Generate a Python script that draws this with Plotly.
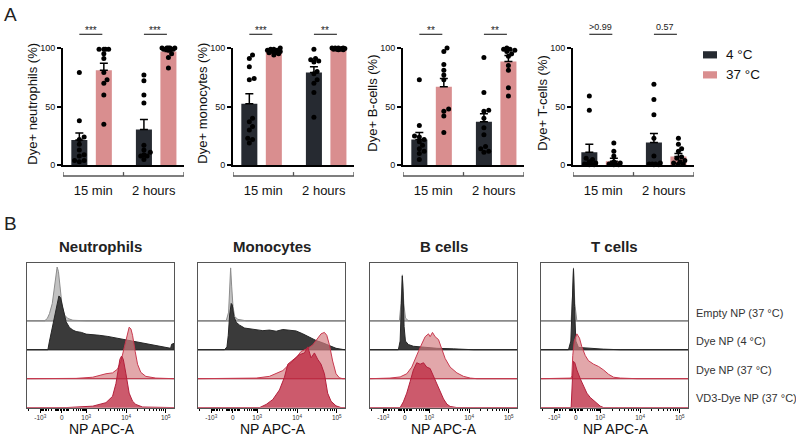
import numpy as np
import plotly.graph_objects as go

W, H = 796, 438
FONT = "Liberation Sans, Arial, sans-serif"


def fx(p):
    return p / W


def fy(p):
    return 1 - p / H


# ---------------- Panel A data ----------------
categories = ["15 min", "2 hours"]
temps = ["4 °C", "37 °C"]
ylabels = ["Dye+ neutrophils (%)", "Dye+ monocytes (%)", "Dye+ B-cells (%)", "Dye+ T-cells (%)"]

neut_4C_mean = [21.5, 30.5]
neut_4C_sem = [6.0, 8.5]
neut_37C_mean = [81.0, 97.0]
neut_37C_sem = [6.0, 1.2]
neut_4C_15 = [79, 38, 24, 22, 18, 13, 9, 8, 4, 4, 3]
neut_4C_2h = [77, 72, 60, 53, 17, 13, 11, 9, 8, 8, 5]
neut_37C_15 = [99, 99, 99, 99, 95, 91, 79, 73, 70, 60, 35]
neut_37C_2h = [100, 100, 100, 100, 100, 99, 99, 98, 95, 92, 83]

mono_4C_mean = [52.5, 79.0]
mono_4C_sem = [8.5, 5.0]
mono_37C_mean = [98.0, 99.5]
mono_37C_sem = [0.8, 0.3]
mono_4C_15 = [94, 91, 84, 74, 73, 40, 37, 33, 30, 23, 22, 19]
mono_4C_2h = [99, 91, 90, 89, 88, 80, 78, 73, 70, 62, 41]
mono_37C_15 = [100, 99, 99, 98, 98, 97, 97, 96, 96, 95, 94]
mono_37C_2h = [100, 100, 100, 100, 99.5, 99.5, 99, 99, 99, 98.5, 98.5]

bcell_4C_mean = [22.0, 37.0]
bcell_4C_sem = [6.0, 7.0]
bcell_37C_mean = [67.0, 88.5]
bcell_37C_sem = [7.0, 5.0]
bcell_4C_15 = [73, 34, 25, 24, 22, 20, 17, 14, 12, 10, 5]
bcell_4C_2h = [92, 62, 47, 46, 40, 32, 26, 16, 14, 12, 11]
bcell_37C_15 = [100, 97, 86, 81, 77, 73, 48, 46, 42, 28]
bcell_37C_2h = [100, 99, 99, 98, 97, 95, 93, 85, 81, 66, 59]

tcell_4C_mean = [11.0, 19.5]
tcell_4C_sem = [7.0, 7.5]
tcell_37C_mean = [3.5, 7.5]
tcell_37C_sem = [2.5, 2.5]
tcell_4C_15 = [59, 47, 6, 5, 3, 2, 1, 1, 1, 0.5, 0.5]
tcell_4C_2h = [69, 56, 43, 23, 8, 2, 1, 1, 1, 0.5, 0.5]
tcell_37C_15 = [19, 12, 8, 3, 2, 1, 1, 1, 0.5, 0.5]
tcell_37C_2h = [23, 18, 14, 12, 7, 6, 4, 3, 2, 1, 1]

significance = [["***", "***"], ["***", "**"], ["**", "**"], [">0.99", "0.57"]]

# ---------------- Panel B data (x in display fraction of NP APC-A axis, h in row units) ----------------
cell_titles = ["Neutrophils", "Monocytes", "B cells", "T cells"]
row_labels = ["Empty NP (37 °C)", "Dye NP (4 °C)", "Dye NP (37 °C)", "VD3-Dye NP (37 °C)"]
apc_tick_text = ["-10<sup>3</sup>", "0", "10<sup>3</sup>", "10<sup>4</sup>", "10<sup>5</sup>"]

neut_empty = [(.120, 0), (.138, .08), (.153, .25), (.172, .6), (.187, 1.2), (.199, 1.7), (.205, 1.86),
              (.214, 1.7), (.226, 1.1), (.239, .5), (.255, .2), (.278, .08), (.312, .02), (.402, 0)]
neut_dye4 = [(.142, 0), (.153, .3), (.176, .85), (.199, 1.5), (.217, 1.86), (.228, 1.8), (.244, 1.4),
             (.266, .97), (.289, .77), (.312, .68), (.334, .63), (.37, .6), (.402, .54), (.45, .53),
             (.492, .5), (.55, .46), (.605, .41), (.66, .36), (.718, .3), (.78, .25), (.831, .19),
             (.89, .13), (.944, .08), (.977, .05), (.984, .19), (.993, .22), (1.0, .22)]
neut_dye37 = [(.334, .01), (.447, .05), (.537, .17), (.582, .2), (.616, .33), (.639, .6), (.661, 1.05),
              (.679, 1.5), (.695, 1.78), (.707, 1.72), (.718, 1.5), (.736, .94), (.752, .5), (.774, .22),
              (.808, .08), (.876, .02)]
neut_vd3 = [(.266, 0), (.447, .05), (.537, .17), (.582, .39), (.605, .83), (.623, 1.39), (.632, 1.67),
            (.643, 1.78), (.655, 1.67), (.673, 1.17), (.695, .5), (.718, .22), (.740, .11), (.786, .02)]

mono_empty = [(.192, 0), (.208, .3), (.215, 1.0), (.222, 1.83), (.229, 1.2), (.238, .5), (.249, .15),
              (.271, .05), (.328, 0)]
mono_dye4 = [(.181, 0), (.197, .1), (.206, .5), (.215, 1.2), (.226, 1.6), (.233, 1.55), (.244, 1.15),
             (.260, .95), (.283, .85), (.317, .75), (.351, .72), (.396, .68), (.441, .66), (.486, .68),
             (.532, .64), (.577, .7), (.622, .68), (.667, .65), (.713, .55), (.758, .42), (.803, .32),
             (.848, .24), (.894, .14), (.939, .05), (.984, .01)]
mono_dye37 = [(.396, .02), (.486, .08), (.532, .17), (.577, .28), (.622, .5), (.667, .72), (.701, .94),
              (.724, 1.0), (.747, 1.05), (.781, 1.17), (.803, 1.33), (.837, 1.55), (.860, 1.6), (.876, 1.5),
              (.894, 1.17), (.916, .61), (.939, .17), (.962, .03), (.984, 0)]
mono_vd3 = [(.419, 0), (.464, .11), (.509, .28), (.554, .61), (.588, 1.05), (.611, 1.5), (.633, 1.6),
            (.656, 1.67), (.690, 1.83), (.724, 1.89), (.747, 2.1), (.769, 1.72), (.792, 1.89), (.814, 1.67),
            (.837, 1.5), (.860, 1.17), (.882, .5), (.905, .22), (.939, .06), (.973, 0)]

bcell_empty = [(.200, 0), (.211, .6), (.220, 1.59), (.230, .6), (.241, .1), (.261, 0)]
bcell_dye4 = [(.193, 0), (.205, .3), (.211, 1.0), (.218, 2.0), (.220, 2.55), (.225, 2.0), (.232, .8),
              (.241, .3), (.261, .18), (.295, .12), (.364, .08), (.455, .05), (.568, .03), (.659, .01),
              (.705, 0)]
bcell_dye37 = [(.136, .02), (.205, .06), (.25, .17), (.284, .4), (.307, .7), (.33, .95), (.352, 1.2),
               (.375, 1.45), (.398, 1.55), (.409, 1.45), (.425, 1.6), (.443, 1.45), (.466, 1.35),
               (.489, 1.0), (.511, .7), (.545, .4), (.591, .2), (.636, .08), (.682, .02), (.727, 0)]
bcell_vd3 = [(.205, 0), (.227, .2), (.25, .5), (.273, .9), (.295, 1.3), (.318, 1.55), (.341, 1.5),
             (.364, 1.55), (.386, 1.4), (.409, 1.35), (.432, 1.1), (.455, .8), (.477, .55), (.5, .3),
             (.523, .12), (.545, .04), (.591, 0)]

tcell_empty = [(.205, 0), (.214, .8), (.221, 1.83), (.23, .6), (.244, 0)]
tcell_dye4 = [(.187, 0), (.203, .3), (.212, 1.5), (.221, 2.8), (.228, 1.5), (.237, .3), (.255, .08),
              (.335, .05), (.426, .02), (.54, 0)]
tcell_dye37 = [(.205, 0.02), (.21, .1), (.216, .8), (.226, 1.3), (.244, 1.55), (.262, 1.4), (.278, 1.1),
               (.301, .8), (.323, .62), (.358, .5), (.392, .42), (.426, .3), (.46, .15), (.494, .05),
               (.54, .02), (.652, 0)]
tcell_vd3 = [(.205, 0), (.214, 1.0), (.221, 1.6), (.23, 1.55), (.244, 1.3), (.267, 1.0), (.289, .75),
             (.312, .5), (.335, .35), (.358, .25), (.381, .15), (.403, .05), (.426, 0)]

# ---------------- styling / layout constants ----------------
DARK = "#262a31"
PINK = "#d98e8f"
A_left = [63, 233, 403, 573]
A_width = 121
A_top, A_bot = 44, 164
cat_center = [0.945, 3.08]
bar_off = 0.405
bar_w = 0.53
X_PX = A_width / 4.0
Y_PX = (A_bot - A_top) / 100.0

B_left = [27, 198, 370, 541]
B_width = 147
B_top, B_bot = 264, 412
apc_major = [0.09, 0.236, 0.403, 0.674, 0.944]


def apc_pos(v):
    if v >= 1000:
        return 0.403 + np.log10(v / 1000.0) * 0.2705
    if v <= -1000:
        return 0.09 - np.log10(-v / 1000.0) * 0.2705
    w = 100.0
    if v >= 0:
        return 0.236 + 0.167 * np.arcsinh(v / w) / np.arcsinh(1000 / w)
    return 0.236 - 0.146 * np.arcsinh(-v / w) / np.arcsinh(1000 / w)


minor_vals = []
for s in (1, -1):
    for v in [20, 40, 60, 80, 100, 200, 300, 400, 500, 600, 700, 800, 900]:
        minor_vals.append(s * v)
minor_vals += [-2000] + [k * 10 ** d for d in (3, 4) for k in range(2, 10)]
apc_minor = [float(apc_pos(v)) for v in minor_vals]


def swarm(vals, center, d=4.0, step=1.6, max_off=7.0):
    placed = []
    xs = [0.0] * len(vals)
    order = sorted(range(len(vals)), key=lambda i: vals[i])
    cands = [0.0]
    j = 1
    while j * step <= max_off:
        cands += [j * step, -j * step]
        j += 1
    for i in order:
        ypx = vals[i] * Y_PX
        best, best_d = 0.0, -1.0
        for off in cands:
            md = min([np.hypot(off - p, ypx - q) for p, q in placed] or [99.0])
            if md >= d:
                best = off
                break
            if md > best_d + 1e-9:
                best, best_d = off, md
        placed.append((best, ypx))
        xs[i] = center + best / X_PX
    return xs


fig = go.Figure()
shapes = []
annotations = []

panelA = [
    (neut_4C_mean, neut_4C_sem, neut_37C_mean, neut_37C_sem, [neut_4C_15, neut_4C_2h], [neut_37C_15, neut_37C_2h]),
    (mono_4C_mean, mono_4C_sem, mono_37C_mean, mono_37C_sem, [mono_4C_15, mono_4C_2h], [mono_37C_15, mono_37C_2h]),
    (bcell_4C_mean, bcell_4C_sem, bcell_37C_mean, bcell_37C_sem, [bcell_4C_15, bcell_4C_2h], [bcell_37C_15, bcell_37C_2h]),
    (tcell_4C_mean, tcell_4C_sem, tcell_37C_mean, tcell_37C_sem, [tcell_4C_15, tcell_4C_2h], [tcell_37C_15, tcell_37C_2h]),
]

layout_axes = {}
for i, (m4, s4, m37, s37, p4, p37) in enumerate(panelA):
    n = i + 1
    xa = "x" if n == 1 else f"x{n}"
    ya = "y" if n == 1 else f"y{n}"
    xdark = [c - bar_off for c in cat_center]
    xpink = [c + bar_off for c in cat_center]
    for xs, means, sems, col, name in [(xdark, m4, s4, DARK, temps[0]), (xpink, m37, s37, PINK, temps[1])]:
        fig.add_trace(go.Bar(
            x=xs, y=means, width=bar_w, marker=dict(color=col, line=dict(width=0)), name=name,
            error_y=dict(type="data", array=sems, arrayminus=[0] * len(sems), symmetric=False,
                         color="black", thickness=1.5, width=4),
            xaxis=xa, yaxis=ya, showlegend=False, hoverinfo="skip"))
    for xs_c, pts in [(xdark, p4), (xpink, p37)]:
        for k in range(2):
            fig.add_trace(go.Scatter(
                x=swarm(pts[k], xs_c[k]), y=pts[k], mode="markers",
                marker=dict(color="black", size=5), cliponaxis=False,
                xaxis=xa, yaxis=ya, showlegend=False, hoverinfo="skip"))
    x0 = A_left[i]
    layout_axes["xaxis" if n == 1 else f"xaxis{n}"] = dict(
        domain=[fx(x0), fx(x0 + A_width)], range=[0, 4], anchor=ya,
        showline=True, linecolor="black", linewidth=2, showgrid=False, zeroline=False,
        tickmode="array", tickvals=[1, 3], ticktext=categories, ticks="",
        ticklabelstandoff=12, tickfont=dict(size=13, color="#111", family=FONT))
    layout_axes["yaxis" if n == 1 else f"yaxis{n}"] = dict(
        domain=[fy(A_bot), fy(A_top)], range=[0, 100], anchor=xa,
        showline=True, linecolor="black", linewidth=2, showgrid=False, zeroline=False,
        tickmode="array", tickvals=[0, 50, 100], ticks="outside", ticklen=4, tickwidth=2,
        tickcolor="black", tickfont=dict(size=9, color="#111", family=FONT))
    annotations.append(dict(xref="paper", yref="paper", x=fx(x0 - 30), y=fy(101), text=ylabels[i],
                            textangle=-90, showarrow=False, xanchor="center", yanchor="middle",
                            font=dict(size=13, color="#111", family=FONT)))
    # category bracket
    shapes.append(dict(type="line", xref=xa, yref="paper", x0=0, x1=4, y0=fy(175), y1=fy(175),
                       line=dict(color="#555", width=1.3)))
    for tx in [0, 2, 4]:
        shapes.append(dict(type="line", xref=xa, yref="paper", x0=tx, x1=tx, y0=fy(175), y1=fy(171),
                           line=dict(color="#555", width=1.3)))
    # significance
    for k in range(2):
        shapes.append(dict(type="line", xref=xa, yref="paper", x0=xdark[k], x1=xpink[k] - 0.05,
                           y0=fy(30), y1=fy(30), line=dict(color="#333", width=1.2)))
        txt = significance[i][k]
        star = txt.startswith("*")
        annotations.append(dict(xref=xa, yref="paper", x=(xdark[k] + xpink[k] - 0.05) / 2,
                                y=fy(26 if star else 23), text=txt, showarrow=False,
                                yanchor="middle", xanchor="center",
                                font=dict(size=10 if star else 9, color="#222", family=FONT)))

# Legend for panel A (manual)
for j, (col, lab) in enumerate([(DARK, temps[0]), (PINK, temps[1])]):
    yc = 51 + j * 20.5
    shapes.append(dict(type="rect", xref="paper", yref="paper", x0=fx(703), x1=fx(717),
                       y0=fy(yc + 3.7), y1=fy(yc - 3.7), fillcolor=col, line=dict(width=0)))
    annotations.append(dict(xref="paper", yref="paper", x=fx(724), y=fy(yc), text=lab, showarrow=False,
                            xanchor="left", yanchor="middle", font=dict(size=13.5, color="#111", family=FONT)))

# ---------------- Panel B ----------------
panelB = [
    (neut_empty, neut_dye4, neut_dye37, neut_vd3),
    (mono_empty, mono_dye4, mono_dye37, mono_vd3),
    (bcell_empty, bcell_dye4, bcell_dye37, bcell_vd3),
    (tcell_empty, tcell_dye4, tcell_dye37, tcell_vd3),
]
styles = [
    (3, "#c2c2c2", "#8c8c8c"),
    (2, "#3a3a3a", "#262626"),
    (1, "rgba(212,125,130,0.68)", "#c8394f"),
    (0, "rgba(188,38,62,0.76)", "#b3203c"),
]

for i, curves in enumerate(panelB):
    n = i + 5
    xa, ya = f"x{n}", f"y{n}"
    for pts, (base, fillc, linec) in zip(curves, styles):
        xs = [p[0] for p in pts]
        hs = [p[1] for p in pts]
        if xs[0] > 0:
            xs = [0.0] + xs
            hs = [0.0] + hs
        if xs[-1] < 1:
            xs = xs + [1.0]
            hs = hs + [0.0]
        fig.add_trace(go.Scatter(
            x=xs + [xs[-1], xs[0]], y=[base + h for h in hs] + [base, base],
            fill="toself", fillcolor=fillc, mode="lines", line=dict(color=linec, width=1),
            xaxis=xa, yaxis=ya, showlegend=False, hoverinfo="skip"))
    x0 = B_left[i]
    layout_axes[f"xaxis{n}"] = dict(
        domain=[fx(x0), fx(x0 + B_width)], range=[0, 1], anchor=ya,
        showline=True, mirror=True, linecolor="#555", linewidth=1, showgrid=False, zeroline=False,
        tickmode="array", tickvals=apc_major, ticktext=apc_tick_text, ticks="outside", ticklen=4,
        tickwidth=1.3, tickcolor="black", tickfont=dict(size=6.5, color="#333", family=FONT),
        minor=dict(tickmode="array", tickvals=apc_minor, ticks="outside", ticklen=2.5, tickwidth=1,
                   tickcolor="black"))
    layout_axes[f"yaxis{n}"] = dict(
        domain=[fy(B_bot), fy(B_top)], range=[0, 5], anchor=xa,
        showline=True, mirror=True, linecolor="#555", linewidth=1, showgrid=False, zeroline=False,
        showticklabels=False, ticks="")
    for rb in [1, 2, 3]:
        shapes.append(dict(type="line", xref=f"{xa} domain", yref=ya, x0=0, x1=1, y0=rb, y1=rb,
                           line=dict(color="#444", width=1), layer="below"))
    annotations.append(dict(xref="paper", yref="paper", x=fx(x0 + B_width / 2), y=fy(247),
                            text=f"<b>{cell_titles[i]}</b>", showarrow=False, xanchor="center",
                            yanchor="middle", font=dict(size=15, color="#222", family=FONT)))
    annotations.append(dict(xref="paper", yref="paper", x=fx(x0 + B_width / 2 + 1), y=fy(434),
                            text="NP APC-A", showarrow=False, xanchor="center", yanchor="middle",
                            font=dict(size=14, color="#111", family=FONT)))

for j, lab in enumerate(row_labels):
    annotations.append(dict(xref="paper", yref="paper", x=fx(694), y=fy(315 + j * 29.2), text=lab,
                            showarrow=False, xanchor="left", yanchor="middle",
                            font=dict(size=11, color="#333", family=FONT)))

annotations.append(dict(xref="paper", yref="paper", x=fx(2), y=fy(10), text="A", showarrow=False,
                        xanchor="left", yanchor="middle", font=dict(size=19, color="#222", family=FONT)))
annotations.append(dict(xref="paper", yref="paper", x=fx(2), y=fy(224), text="B", showarrow=False,
                        xanchor="left", yanchor="middle", font=dict(size=19, color="#222", family=FONT)))

fig.update_layout(
    width=W, height=H, margin=dict(l=0, r=0, t=0, b=0),
    paper_bgcolor="white", plot_bgcolor="white",
    font=dict(family=FONT, color="#111"),
    barmode="overlay", showlegend=False,
    shapes=shapes, annotations=annotations, **layout_axes)

fig.write_html("out.html")
